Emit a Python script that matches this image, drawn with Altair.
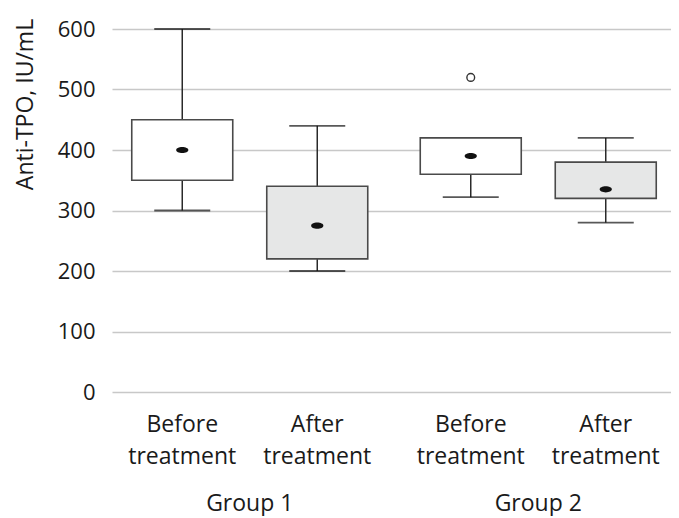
import altair as alt
import pandas as pd

groups = ["Group 1", "Group 1", "Group 2", "Group 2"]
treatments = ["Before treatment", "After treatment", "Before treatment", "After treatment"]
mins = [300, 200, 322, 280]
q1s = [350, 220, 360, 320]
medians = [400, 275, 390, 335]
q3s = [450, 340, 420, 380]
maxs = [600, 440, 420, 420]

outlier_groups = ["Group 2"]
outlier_treatments = ["Before treatment"]
outlier_values = [520]

y_ticks = [0, 100, 200, 300, 400, 500, 600]
treat_order = ["Before treatment", "After treatment"]
group_order = ["Group 1", "Group 2"]

df = pd.DataFrame({
    "group": groups, "treatment": treatments,
    "min": mins, "q1": q1s, "median": medians, "q3": q3s, "max": maxs,
})
out_df = pd.DataFrame({"group": outlier_groups, "treatment": outlier_treatments, "value": outlier_values})

FONT = "Open Sans"

x_enc = alt.X(
    "group:N", sort=group_order,
    scale=alt.Scale(paddingInner=0.1681, paddingOuter=0.05286, align=0.582),
    axis=alt.Axis(title=None, domain=False, ticks=False, tickSize=0, grid=False,
                  labelFontSize=23, labelColor="#1a1a1a", labelPadding=118,
                  labelBaseline="alphabetic", labelAngle=0, labelFont=FONT),
)
xo_enc = alt.XOffset("treatment:N", sort=treat_order,
                     scale=alt.Scale(paddingInner=0.25, paddingOuter=0.0139))

y_scale = alt.Scale(domain=[0, 600], nice=False)
y_axis = alt.Axis(title="Anti-TPO, IU/mL", values=y_ticks, domain=False, ticks=False,
                  grid=True, gridColor="#c8c8c8", gridWidth=1.3,
                  labelFontSize=22, labelColor="#1a1a1a", labelPadding=17, labelFont=FONT,
                  titleFontSize=23, titleFontWeight="normal", titleColor="#1a1a1a",
                  titleFont=FONT, titleAngle=-90, titleX=-87, titleY=75,
                  titleAlign="center", titleBaseline="middle")

base = alt.Chart(df).encode(x=x_enc, xOffset=xo_enc)

whisker_low = base.mark_rule(color="#2a2a2a", strokeWidth=1.5).encode(
    y=alt.Y("min:Q", scale=y_scale, axis=y_axis), y2="q1:Q")
whisker_high = base.mark_rule(color="#2a2a2a", strokeWidth=1.5).encode(
    y=alt.Y("q3:Q", scale=y_scale, axis=y_axis), y2="max:Q")
cap_low = base.mark_tick(color="#111111", thickness=1.8, size=56).encode(
    y=alt.Y("min:Q", scale=y_scale, axis=y_axis))
cap_high = base.mark_tick(color="#111111", thickness=1.8, size=56).encode(
    y=alt.Y("max:Q", scale=y_scale, axis=y_axis))
box = base.mark_bar(stroke="#4a4a4a", strokeWidth=1.6, size=101).encode(
    y=alt.Y("q1:Q", scale=y_scale, axis=y_axis), y2="q3:Q",
    fill=alt.Fill("treatment:N", scale=alt.Scale(domain=treat_order, range=["#ffffff", "#e6e7e7"]),
                  legend=None),
)
median = base.mark_point(shape="M-1,0A1,0.5,0,1,0,1,0A1,0.5,0,1,0,-1,0Z", filled=True,
                         color="#111111", size=150, opacity=1).encode(
    y=alt.Y("median:Q", scale=y_scale, axis=y_axis))
labels = base.mark_text(font=FONT, fontSize=23, color="#1a1a1a", lineBreak=" ",
                        lineHeight=32, baseline="alphabetic", align="center").encode(
    text="treatment:N", y=alt.value(403))

outliers = alt.Chart(out_df).mark_point(shape="circle", filled=False, color="#333333",
                                        strokeWidth=1.4, size=60, opacity=1).encode(
    x=x_enc, xOffset=xo_enc, y=alt.Y("value:Q", scale=y_scale, axis=y_axis))

chart = alt.layer(whisker_low, whisker_high, cap_low, cap_high, box, median, outliers, labels).properties(
    width=559, height=363,
    padding={"left": 104, "top": 21, "right": 0, "bottom": 124},
    autosize=alt.AutoSizeParams(type="none"),
).configure(font=FONT).configure_view(stroke=None)

chart.save("out.html", embed_options={"renderer": "svg", "actions": False})
